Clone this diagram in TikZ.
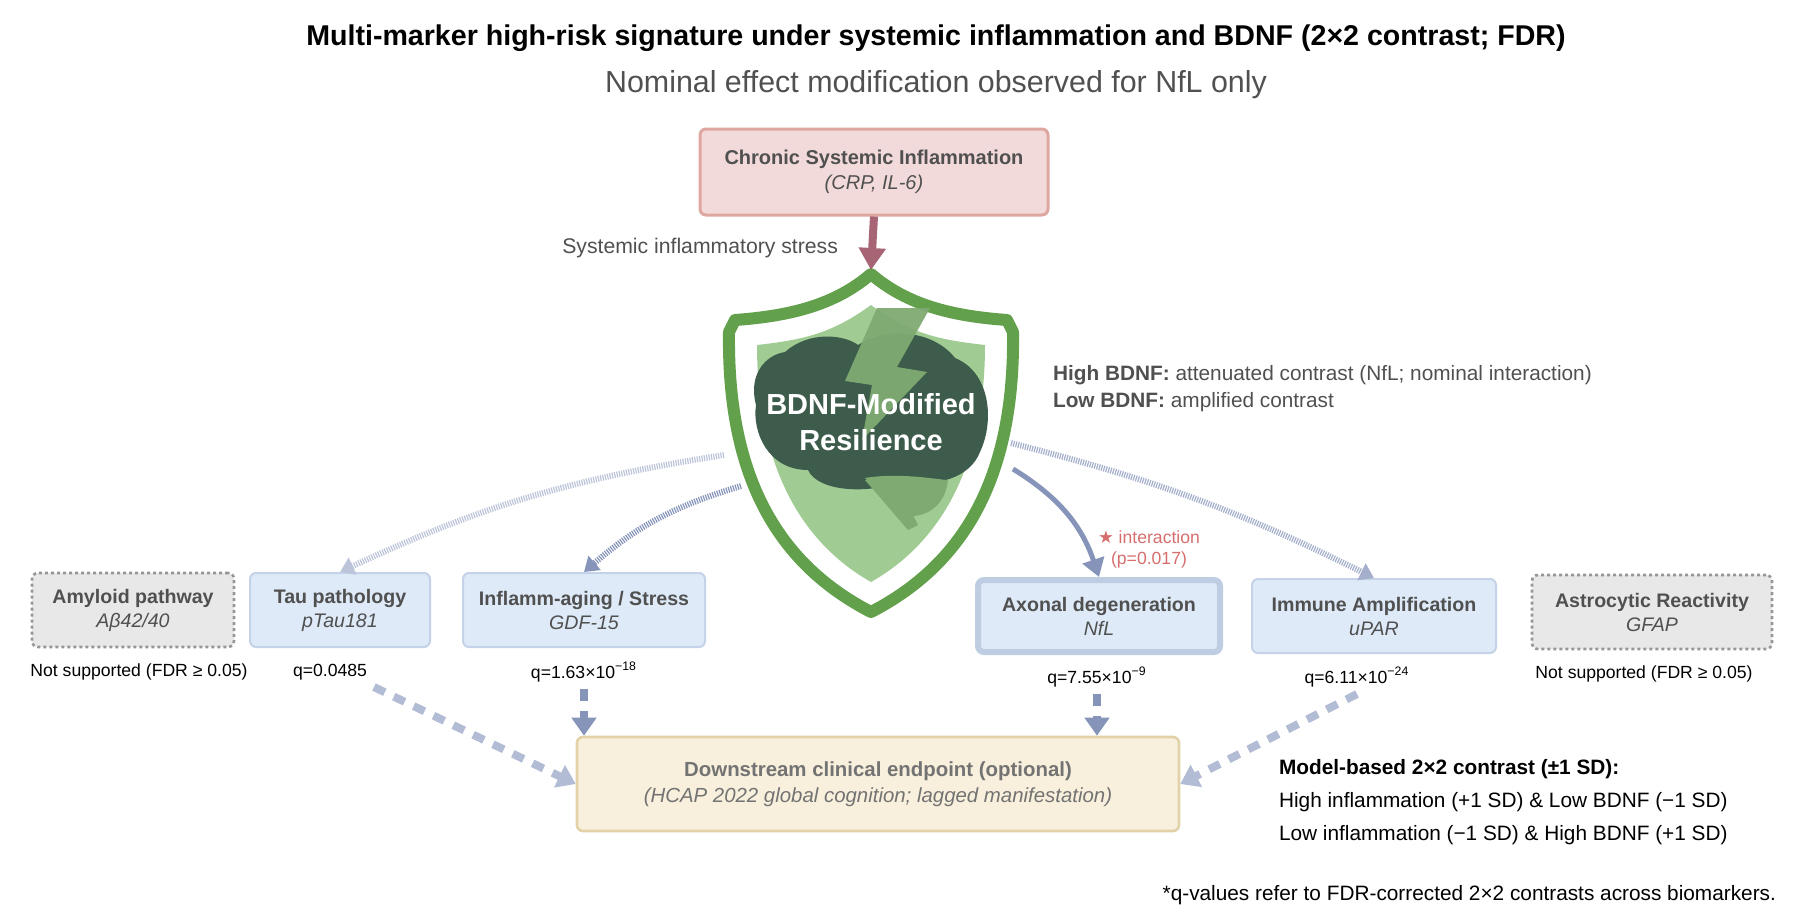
\documentclass[tikz,border=0pt]{standalone}
\usepackage{fontspec}
\setmainfont{Liberation Sans}
\newfontfamily\symfont{DejaVu Sans}
\usepackage{tikz}
\usetikzlibrary{positioning}
\usetikzlibrary{calc}
\usetikzlibrary{arrows.meta}
\usepackage{xcolor}
\definecolor{shieldgreen}{RGB}{98,160,76}
\definecolor{innergreen}{RGB}{160,204,148}
\definecolor{braingreen}{RGB}{62,92,76}
\definecolor{boltgreen}{RGB}{127,170,114}
\definecolor{boxblue}{RGB}{222,234,248}
\definecolor{boxline}{RGB}{197,211,232}
\definecolor{arrowblue}{RGB}{134,148,186}
\definecolor{fadeblue}{RGB}{190,198,220}
\definecolor{inflfill}{RGB}{243,218,218}
\definecolor{inflline}{RGB}{222,166,160}
\definecolor{inflarrow}{RGB}{166,100,116}
\definecolor{endfill}{RGB}{248,240,220}
\definecolor{endline}{RGB}{226,210,170}
\definecolor{greyfill}{RGB}{232,232,232}
\definecolor{greyline}{RGB}{150,150,150}
\definecolor{txtgrey}{RGB}{80,80,80}
\definecolor{redtxt}{RGB}{214,110,110}

\tikzset{
  marker/.style={draw=boxline, fill=boxblue, rounded corners=3pt, line width=1pt,
    align=center, text=txtgrey, font=\fontsize{9.8}{12}\selectfont},
  nosupport/.style={marker, draw=greyline, fill=greyfill, dash pattern=on 1.5pt off 1.5pt, line width=1.3pt},
  qlabel/.style={font=\fontsize{8.8}{10}\selectfont},
  dotarrow/.style={-{Triangle[length=7pt,width=9pt]}, arrowblue, line width=3pt, dash pattern=on 0.6pt off 0.6pt},
  thickdash/.style={fadeblue, line width=4pt, dash pattern=on 6pt off 5pt},
}

\begin{document}
\begin{tikzpicture}[x=0.5pt,y=-0.5pt]
    \useasboundingbox (0,0) rectangle (1816,918);

    % titles
    \node[font=\fontsize{14.3}{16}\selectfont\bfseries] (title) at (936,38)
        {Multi-marker high-risk signature under systemic inflammation and BDNF (2×2 contrast; FDR)};
    \node[font=\fontsize{15.2}{18}\selectfont, text=txtgrey] (subtitle) at (936,85)
        {Nominal effect modification observed for NfL only};

    % ------------------

    % inflammation source
    \node[draw=inflline, fill=inflfill, line width=1.5pt, rounded corners=3pt,
          minimum width=174pt, minimum height=43pt, align=center, text=txtgrey,
          font=\fontsize{10}{12.5}\selectfont] (infl) at (874,172)
        {\textbf{Chronic Systemic Inflammation}\\\textit{(CRP, IL-6)}};
    \coordinate (shtop) at (871,270);
    \node[anchor=east, text=txtgrey, font=\fontsize{10.6}{12}\selectfont] (stress) at (845,248)
        {Systemic inflammatory stress};

    % ------------------

    % shield
    \draw[shieldgreen, line width=6pt, fill=white, line join=round]
        (871,274) .. controls (835,305) and (790,316) .. (735,320)
        -- (729,332) .. controls (727,480) and (780,565) .. (871,612)
        .. controls (962,565) and (1015,480) .. (1013,332)
        -- (1007,320) .. controls (952,316) and (907,305) .. (871,274) -- cycle;
    \fill[innergreen]
        (757,345) .. controls (800,340) and (830,335) .. (871,305)
        .. controls (912,335) and (942,340) .. (985,345)
        .. controls (985,460) and (945,540) .. (871,582)
        .. controls (797,540) and (757,460) .. (757,345) -- cycle;
    % brain
    \fill[braingreen]
        (785,352) .. controls (810,330) and (845,335) .. (858,345)
        .. controls (890,325) and (935,332) .. (955,358)
        .. controls (990,372) and (995,420) .. (980,452)
        .. controls (970,478) and (935,488) .. (905,480)
        .. controls (870,495) and (818,492) .. (808,470)
        .. controls (768,470) and (752,432) .. (756,405)
        .. controls (748,375) and (765,355) .. (785,352) -- cycle;
    \fill[boltgreen] (865,478) .. controls (900,472) and (940,480) .. (948,480)
        .. controls (945,510) and (920,520) .. (900,515) -- cycle;
    \fill[boltgreen] (865,480) -- (895,480) -- (918,525) -- (908,530) -- cycle;
    \fill[boltgreen, opacity=0.95] (877,308) -- (930,308) -- (897,367) -- (927,372)
        -- (862,440) -- (872,385) -- (845,381) -- cycle;
    \node[text=white, font=\fontsize{14.5}{18}\selectfont\bfseries, align=center] (bdnf) at (871,422)
        {BDNF-Modified\\Resilience};
    \node[anchor=west, text=txtgrey, font=\fontsize{10.4}{13.5}\selectfont, align=left] (bdnfnote) at (1046,389)
        {\textbf{High BDNF:} attenuated contrast (NfL; nominal interaction)\\
         \textbf{Low BDNF:} amplified contrast};
    \coordinate (shl1) at (724,455);
    \coordinate (shl2) at (741,486);
    \coordinate (shr1) at (1011,443);
    \coordinate (shr2) at (1013,469);

    % ------------------

    % biomarkers
    \node[nosupport, minimum width=101pt, minimum height=37pt] (amy) at (133,610)
        {\textbf{Amyloid pathway}\\\textit{Aβ42/40}};
    \node[marker, minimum width=90pt, minimum height=37pt] (tau) at (340,610)
        {\textbf{Tau pathology}\\\textit{pTau181}};
    \node[marker, minimum width=121pt, minimum height=37pt] (gdf) at (584,610)
        {\textbf{Inflamm-aging / Stress}\\\textit{GDF-15}};
    \node[marker, draw=boxline!90!arrowblue, line width=3pt, minimum width=121pt, minimum height=36pt] (nfl) at (1099,616)
        {\textbf{Axonal degeneration}\\\textit{NfL}};
    \node[marker, minimum width=122pt, minimum height=37pt] (upar) at (1374,616)
        {\textbf{Immune Amplification}\\\textit{uPAR}};
    \node[nosupport, minimum width=120pt, minimum height=37pt] (gfap) at (1652,612)
        {\textbf{Astrocytic Reactivity}\\\textit{GFAP}};

    \node[qlabel] (amyq) at (139,672) {Not supported (FDR ≥ 0.05)};
    \node[qlabel] (tauq) at (330,672) {q=0.0485};
    \node[qlabel] (gdfq) at (584,672) {q=1.63×10\textsuperscript{−18}};
    \node[qlabel] (nflq) at (1097,677) {q=7.55×10\textsuperscript{−9}};
    \node[qlabel] (uparq) at (1357,677) {q=6.11×10\textsuperscript{−24}};
    \node[qlabel] (gfapq) at (1644,674) {Not supported (FDR ≥ 0.05)};
    \node[text=redtxt, font=\fontsize{8.8}{10.5}\selectfont, align=center] (inter) at (1149,549)
        {{\symfont ★} interaction\\(p=0.017)};

    % ------------------

    % endpoint
    \node[draw=endline, fill=endfill, line width=1.3pt, rounded corners=3pt,
          minimum width=301pt, minimum height=47pt, align=center, text=txtgrey!80,
          font=\fontsize{10.2}{13}\selectfont] (endp) at (878,784)
        {\textbf{Downstream clinical endpoint (optional)}\\\textit{(HCAP 2022 global cognition; lagged manifestation)}};
    \node[anchor=north west, font=\fontsize{10.4}{16.5}\selectfont, align=left] (contrast) at (1272,752)
        {\textbf{Model-based 2×2 contrast (±1 SD):}\\
         High inflammation (+1 SD) \& Low BDNF (−1 SD)\\
         Low inflammation (−1 SD) \& High BDNF (+1 SD)};
    \node[anchor=east, font=\fontsize{10.4}{12}\selectfont] (foot) at (1783,895)
        {*q-values refer to FDR-corrected 2×2 contrasts across biomarkers.};

    % ------------------

    % links
    \draw[-{Triangle[length=11pt,width=13pt]}, inflarrow, line width=4pt] (infl.south) -- (shtop);
    \draw[dotarrow, arrowblue!55] (shl1) to[bend right=8] (tau.north);
    \draw[dotarrow] (shl2) to[bend right=12] (gdf.north);
    \draw[dotarrow, arrowblue!75] (shr1) to[bend left=6] (upar.north);
    \draw[-{Triangle[length=9pt,width=11pt]}, arrowblue, line width=2.5pt] (shr2) to[bend left=20] (nfl.north);

    \draw[thickdash, -{Triangle[length=9pt,width=12pt]}, fadeblue!80!arrowblue] (tauq.south east) -- (endp.west);
    \draw[thickdash, -{Triangle[length=9pt,width=12pt]}, arrowblue] (gdfq.south) -- (gdfq.south |- endp.north);
    \draw[thickdash, -{Triangle[length=9pt,width=12pt]}, arrowblue] (nflq.south) -- (nflq.south |- endp.north);
    \draw[thickdash, -{Triangle[length=9pt,width=12pt]}, fadeblue!80!arrowblue] (uparq.south) -- (endp.east);
\end{tikzpicture}
\end{document}
